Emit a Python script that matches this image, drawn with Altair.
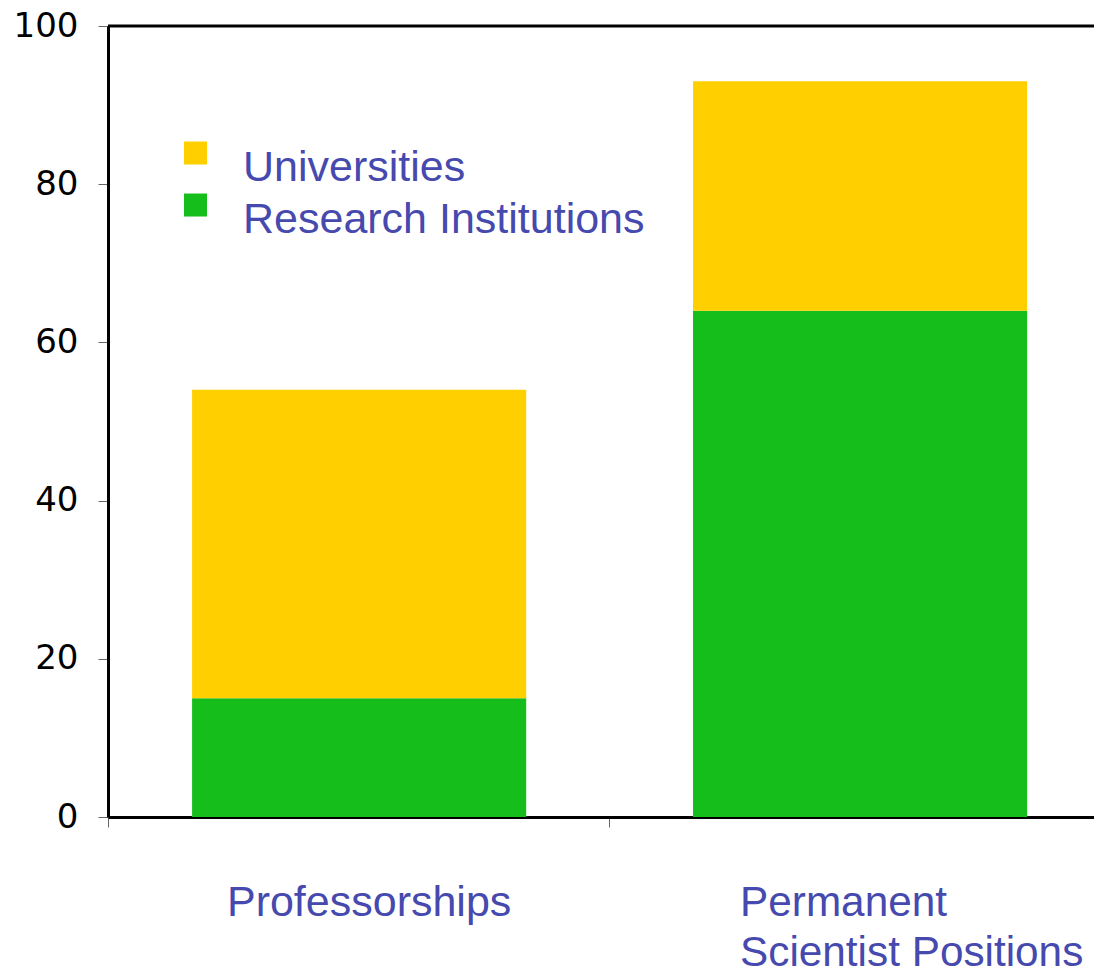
import altair as alt
import pandas as pd

categories = ["Professorships", "Permanent Scientist Positions"]
series = ["Universities", "Research Institutions"]
research_values = [15, 64]
university_values = [39, 29]
axis_labels = ["Professorships", "Permanent\nScientist Positions"]
y_ticks = [0, 20, 40, 60, 80, 100]

YELLOW = "#FFCF00"
GREEN = "#15BE1B"
BLUE = "#4649AE"

W = 986
H = 791

rows = []
for c, r, u in zip(categories, research_values, university_values):
    rows.append({"category": c, "series": "Research Institutions", "value": r, "ord": 0})
    rows.append({"category": c, "series": "Universities", "value": u, "ord": 1})
df = pd.DataFrame(rows)

lab_df = pd.DataFrame({"category": categories, "label": axis_labels})

x_scale = alt.Scale(paddingInner=0.333, paddingOuter=0.1507, align=0.557)

x_enc = alt.X(
    "category:N",
    sort=categories,
    scale=x_scale,
    axis=alt.Axis(
        title=None, labels=False, bandPosition=-0.25, tickSize=10,
        tickColor="#666666", tickWidth=1, domainColor="black", domainWidth=3,
    ),
)

# square legend swatch raised above the label's middle line
SWATCH = "M-1,-2.26H1V-0.26H-1Z"

bars = alt.Chart(df).mark_bar().encode(
    x=x_enc,
    y=alt.Y(
        "value:Q",
        stack="zero",
        scale=alt.Scale(domain=[0, 100], nice=False),
        axis=alt.Axis(
            title=None, values=y_ticks, grid=False, tickSize=10,
            tickColor="#666666", tickWidth=1, domainColor="black", domainWidth=3,
            labelFont="DejaVu Sans", labelFontSize=34, labelColor="black",
            labelPadding=20,
        ),
    ),
    color=alt.Color(
        "series:N",
        scale=alt.Scale(domain=series, range=[YELLOW, GREEN]),
        legend=alt.Legend(
            title=None, orient="none", legendX=66, legendY=120,
            symbolType=SWATCH, symbolSize=529, symbolStrokeWidth=0,
            labelFontSize=43, labelFont="Liberation Sans", labelColor=BLUE,
            labelOffset=26, rowPadding=3, padding=0,
            labelLimit=600, labelBaseline="middle",
        ),
    ),
    order=alt.Order("ord:Q", sort="ascending"),
)

top_border = alt.Chart(pd.DataFrame({"k": [0]})).mark_rule(
    color="black", strokeWidth=3
).encode(
    x=alt.value(0), x2=alt.value(W), y=alt.value(0),
)

prof_label = alt.Chart(lab_df).transform_filter(
    alt.datum.category == categories[0]
).mark_text(
    font="Liberation Sans", fontSize=43, color=BLUE, align="center",
    baseline="alphabetic", dx=10, lineBreak="\n", lineHeight=50,
).encode(
    x=alt.X("category:N", sort=categories),
    y=alt.value(890),
    text="label:N",
)

perm_label = alt.Chart(lab_df).transform_filter(
    alt.datum.category == categories[1]
).mark_text(
    font="Liberation Sans", fontSize=42.3, color=BLUE, align="left",
    baseline="alphabetic", dx=-120, lineBreak="\n", lineHeight=50,
).encode(
    x=alt.X("category:N", sort=categories),
    y=alt.value(890),
    text="label:N",
)

chart = alt.layer(bars, top_border, prof_label, perm_label).properties(
    width=W,
    height=H,
    autosize=alt.AutoSizeParams(type="none"),
    padding={"left": 108, "top": 26, "right": 0, "bottom": 155},
    background="white",
).configure_view(
    stroke=None,
)

chart.save("out.html", embed_options={"renderer": "svg", "actions": False})
